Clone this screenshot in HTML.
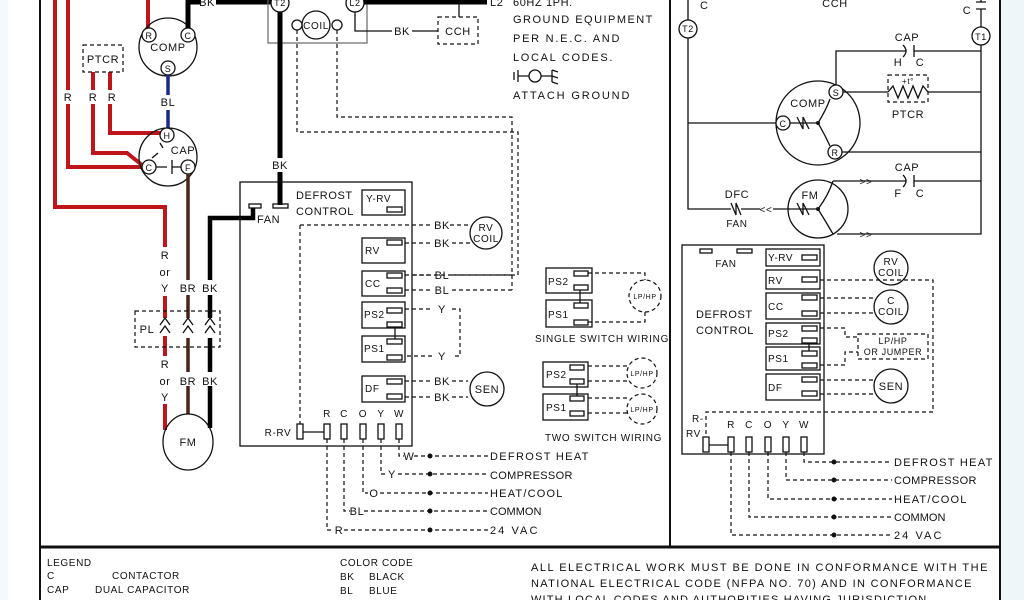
<!DOCTYPE html>
<html><head><meta charset="utf-8"><style>
html,body{margin:0;padding:0;background:#fff;width:1024px;height:600px;overflow:hidden}
svg{display:block}
text{font-family:"Liberation Sans",sans-serif;font-size:11px;fill:#111;letter-spacing:0.6px}
.t{stroke:#111;stroke-width:1.3;fill:none}
.d{stroke:#111;stroke-width:1.2;fill:none;stroke-dasharray:4,3}
.k{stroke:#000;stroke-width:5;fill:none}
.r{stroke:#c0161b;stroke-width:4;fill:none}
.b{stroke:#4a2418;stroke-width:3.5;fill:none}
.c{stroke:#111;stroke-width:1.3;fill:#fff}
.m{text-anchor:middle}
</style></head><body>
<svg width="1024" height="600" viewBox="0 0 1024 600" xmlns="http://www.w3.org/2000/svg">
<rect x="1001" y="0" width="23" height="600" fill="#eef6fa"/>
<rect x="0" y="0" width="8" height="600" fill="#f3f9fc"/>
<!-- frame -->
<line x1="40" y1="0" x2="40" y2="600" stroke="#111" stroke-width="2"/>
<line x1="1000" y1="0" x2="1000" y2="600" stroke="#111" stroke-width="2"/>
<line x1="40" y1="547" x2="1000" y2="547" stroke="#111" stroke-width="3"/>
<line x1="670" y1="0" x2="670" y2="547" stroke="#111" stroke-width="2"/>

<!-- LEFT: red wires -->
<path class="r" d="M55,0 V207 H165 V247"/>
<path class="r" d="M68,0 V90 M68,104 V167 H142"/>
<path class="r" d="M93,72 V90 M93,104 V153 H127 L142,165"/>
<path class="r" d="M110,72 V90 M110,104 V133 H161"/>
<path class="r" d="M148,0 V28"/>
<text x="68" y="101" class="m">R</text><text x="93" y="101" class="m">R</text><text x="112" y="101" class="m">R</text>
<rect x="83" y="45" width="40" height="27" class="d"/>
<text x="103" y="63" class="m">PTCR</text>
<!-- COMP -->
<circle cx="168" cy="47" r="29" class="t"/>
<text x="168" y="51" class="m">COMP</text>
<circle cx="149" cy="35" r="7" class="c"/><text x="149" y="39" class="m" style="font-size:9px">R</text>
<circle cx="188" cy="35" r="7" class="c"/><text x="188" y="39" class="m" style="font-size:9px">C</text>
<circle cx="168" cy="68" r="7" class="c"/><text x="168" y="72" class="m" style="font-size:9px">S</text>
<path class="k" d="M188,28 V2 H200 M216,2 H272"/>
<text x="207" y="6" class="m">BK</text>
<path d="M168,75 V95 M168,110 V128" stroke="#1a2a8a" stroke-width="3.5" fill="none"/>
<text x="168" y="106" class="m">BL</text>
<!-- CAP -->
<circle cx="168" cy="157" r="29" class="t"/>
<text x="183" y="154" class="m">CAP</text>
<circle cx="167" cy="135" r="7" class="c"/><text x="167" y="139" class="m" style="font-size:9px">H</text>
<circle cx="149" cy="167" r="7" class="c"/><text x="149" y="171" class="m" style="font-size:9px">C</text>
<circle cx="188" cy="167" r="7" class="c"/><text x="188" y="171" class="m" style="font-size:9px">F</text>
<path class="t" d="M156,167 H167 M172,160 V174 M172,167 H181 M160,143 L163,148 M152,158 L158,153"/>
<path class="b" d="M188,174 V280 M188,295 V318 M188,338 V372 M188,386 V414"/>
<text x="188" y="292" class="m">BR</text>
<path class="k" d="M253,208 V218 H210 V280 M210,295 V318 M210,338 V372 M210,386 V428" style="stroke-width:4.5"/>
<text x="210" y="292" class="m">BK</text>
<text x="165" y="259" class="m">R</text><text x="165" y="276" class="m">or</text><text x="165" y="292" class="m">Y</text>
<path class="r" d="M165,296 V318 M165,336 V356 M165,404 V430"/>
<rect x="135" y="311" width="85" height="36" class="d"/>
<text x="147" y="333" class="m">PL</text>
<path class="t" d="M160,325 L165,318 L170,325 M160,333 L165,326 L170,333 M183,325 L188,318 L193,325 M183,333 L188,326 L193,333 M205,325 L210,318 L215,325 M205,333 L210,326 L215,333"/>
<text x="165" y="368" class="m">R</text><text x="165" y="385" class="m">or</text><text x="165" y="401" class="m">Y</text>
<text x="188" y="385" class="m">BR</text><text x="210" y="385" class="m">BK</text>
<ellipse cx="188" cy="442" rx="25" ry="28" class="t"/>
<text x="188" y="446" class="m">FM</text>

<!-- top middle -->
<rect x="268" y="-2" width="99" height="45" stroke="#666" stroke-width="1.2" fill="none"/>
<path class="k" d="M280,3 V158 M280,172 V205"/>
<text x="280" y="169" class="m">BK</text>
<circle cx="280" cy="3" r="9" class="c"/><text x="280" y="6" class="m" style="font-size:9px">T2</text>
<circle cx="355" cy="3" r="9" class="c"/><text x="355" y="6" class="m" style="font-size:9px">L2</text>
<path class="k" d="M364,2 H487"/>
<text x="490" y="6">L2</text>
<circle cx="316" cy="25" r="14" class="t"/><text x="316" y="29" class="m" style="font-size:10px">COIL</text>
<circle cx="297" cy="25" r="5" class="c"/><circle cx="337" cy="25" r="5" class="c"/>
<path class="d" d="M297,30 V132 H518 V275 H412"/>
<path class="d" d="M337,30 V117 H512 V290"/>
<path class="t" d="M355,12 V31 H392 M412,31 H438 M459,17 V3"/>
<text x="402" y="35" class="m">BK</text>
<rect x="438" y="17" width="40" height="27" class="d"/>
<text x="458" y="35" class="m">CCH</text>
<text x="513" y="6">60HZ 1PH.</text>
<text x="513" y="23" textLength="140">GROUND EQUIPMENT</text>
<text x="513" y="42" textLength="107">PER N.E.C. AND</text>
<text x="513" y="61" textLength="100">LOCAL CODES.</text>
<path class="t" d="M514,72 V80 M518,70 V82 M518,76 H529 M541,76 H552 M552,70 V82 M552,70 L558,72 M552,76 L558,78 M552,82 L558,84"/>
<circle cx="535" cy="76" r="6" class="t"/>
<text x="513" y="99" textLength="117">ATTACH GROUND</text>

<!-- LEFT DEFROST CONTROL -->
<rect x="240" y="182" width="172" height="264" class="t"/>
<text x="296" y="199">DEFROST</text><text x="296" y="215">CONTROL</text>
<rect x="249" y="204" width="12" height="4" class="t"/><rect x="273" y="204" width="15" height="4" class="t"/>
<text x="257" y="223">FAN</text>
<rect x="362" y="190" width="43" height="25" class="t"/><text x="366" y="202" style="font-size:10px">Y-RV</text><rect x="387" y="207" width="15" height="5" class="t"/>
<path class="d" d="M300,225 H430 M300,225 V424"/>
<rect x="362" y="238" width="43" height="25" class="t"/><text x="365" y="254" style="font-size:10px">RV</text><rect x="387" y="240" width="15" height="5" class="t"/>
<rect x="362" y="271" width="43" height="25" class="t"/><text x="365" y="287" style="font-size:10px">CC</text><rect x="387" y="273" width="15" height="5" class="t"/><rect x="387" y="288" width="15" height="5" class="t"/>
<rect x="362" y="302" width="43" height="26" class="t"/><text x="364" y="318" style="font-size:10px">PS2</text><rect x="387" y="308" width="15" height="5" class="t"/><rect x="387" y="322" width="15" height="5" class="t"/>
<rect x="362" y="336" width="43" height="26" class="t"/><text x="364" y="352" style="font-size:10px">PS1</text><rect x="387" y="339" width="15" height="5" class="t"/><rect x="387" y="355" width="15" height="5" class="t"/>
<line x1="395" y1="327" x2="395" y2="339" class="t"/>
<rect x="362" y="376" width="43" height="26" class="t"/><text x="365" y="392" style="font-size:10px">DF</text><rect x="387" y="379" width="15" height="5" class="t"/><rect x="387" y="394" width="15" height="5" class="t"/>
<path class="d" d="M450,225 H470 M405,243 H432 M452,243 H470 M405,275 H432 M452,275 H512 M405,290 H432 M452,290 H512 M405,309 H432 M452,309 H460 V356 H452 M432,356 H405 M405,381 H432 M452,381 H468 M405,397 H432 M452,397 H468"/>
<text x="442" y="229" class="m">BK</text><text x="442" y="247" class="m">BK</text>
<text x="442" y="279" class="m">BL</text><text x="442" y="294" class="m">BL</text>
<text x="442" y="313" class="m">Y</text><text x="442" y="360" class="m">Y</text>
<text x="442" y="385" class="m">BK</text><text x="442" y="401" class="m">BK</text>
<circle cx="486" cy="233" r="16" class="t"/><text x="486" y="231" class="m" style="font-size:10px">RV</text><text x="486" y="242" class="m" style="font-size:10px">COIL</text>
<circle cx="487" cy="389" r="17" class="t"/><text x="487" y="393" class="m">SEN</text>
<text x="327" y="417" class="m" style="font-size:10px">R</text><text x="344" y="417" class="m" style="font-size:10px">C</text><text x="363" y="417" class="m" style="font-size:10px">O</text><text x="381" y="417" class="m" style="font-size:10px">Y</text><text x="399" y="417" class="m" style="font-size:10px">W</text>
<text x="278" y="436" class="m" style="font-size:10px">R-RV</text>
<rect x="297" y="424" width="6" height="15" class="t"/><line x1="303" y1="432" x2="324" y2="432" class="t"/>
<rect x="324" y="424" width="6" height="15" class="t"/><rect x="341" y="424" width="6" height="15" class="t"/><rect x="360" y="424" width="6" height="15" class="t"/><rect x="378" y="424" width="6" height="15" class="t"/><rect x="396" y="424" width="6" height="15" class="t"/>
<path class="d" d="M399,439 V456 H404 M414,456 H488 M381,439 V474 H386 M398,474 H488 M363,439 V493 H368 M380,493 H488 M344,439 V511 H350 M364,511 H488 M327,439 V530 H333 M344,530 H488"/>
<text x="409" y="460" class="m">W</text><text x="392" y="478" class="m">Y</text><text x="374" y="497" class="m">O</text><text x="357" y="515" class="m">BL</text><text x="339" y="534" class="m">R</text>
<g fill="#111"><circle cx="430" cy="456" r="2.5"/><circle cx="430" cy="474" r="2.5"/><circle cx="430" cy="493" r="2.5"/><circle cx="430" cy="511" r="2.5"/><circle cx="430" cy="530" r="2.5"/></g>
<text x="490" y="460" textLength="99">DEFROST HEAT</text><text x="490" y="479" textLength="83">COMPRESSOR</text><text x="490" y="497" textLength="73">HEAT/COOL</text><text x="490" y="515" textLength="52">COMMON</text><text x="490" y="534" textLength="48">24 VAC</text>

<!-- switch wiring -->
<rect x="546" y="268" width="46" height="25" class="t"/><text x="548" y="285" style="font-size:10px">PS2</text><rect x="574" y="271" width="14" height="5" class="t"/><rect x="574" y="285" width="14" height="5" class="t"/>
<rect x="546" y="300" width="46" height="27" class="t"/><text x="548" y="318" style="font-size:10px">PS1</text><rect x="574" y="303" width="14" height="5" class="t"/><rect x="574" y="320" width="14" height="5" class="t"/>
<line x1="580" y1="290" x2="580" y2="303" class="t"/>
<path class="d" d="M588,273 H645 V280 M588,322 H645 V312"/>
<circle cx="645" cy="296" r="16" class="d"/><text x="645" y="299" class="m" style="font-size:7px">LP/HP</text>
<text x="535" y="342" textLength="134" style="font-size:10px">SINGLE SWITCH WIRING</text>
<rect x="543" y="362" width="45" height="25" class="t"/><text x="546" y="378" style="font-size:10px">PS2</text><rect x="570" y="365" width="14" height="5" class="t"/><rect x="570" y="379" width="14" height="5" class="t"/>
<rect x="543" y="394" width="45" height="26" class="t"/><text x="546" y="411" style="font-size:10px">PS1</text><rect x="570" y="396" width="14" height="5" class="t"/><rect x="570" y="411" width="14" height="5" class="t"/>
<line x1="577" y1="384" x2="577" y2="396" class="t"/>
<path class="d" d="M588,366 H627 M588,381 H627 M588,398 H627 M588,413 H627"/>
<circle cx="642" cy="373" r="15" class="d"/><text x="642" y="376" class="m" style="font-size:7px">LP/HP</text>
<circle cx="642" cy="409" r="15" class="d"/><text x="642" y="412" class="m" style="font-size:7px">LP/HP</text>
<text x="545" y="441" textLength="117" style="font-size:10px">TWO SWITCH WIRING</text>

<!-- RIGHT schematic -->
<path class="t" d="M688,0 V209 H731 M741,209 H760 M773,209 H790"/>
<circle cx="688" cy="29" r="9" class="c"/><text x="688" y="32" class="m" style="font-size:9px">T2</text>
<text x="700" y="9">C</text><text x="835" y="7" class="m">CCH</text>
<path class="t" d="M981,0 V2 M976,2 H986 M976,9 H986 M981,9 V234 H837"/>
<text x="967" y="14" class="m">C</text>
<circle cx="981" cy="36" r="9" class="c"/><text x="981" y="40" class="m" style="font-size:9px">T1</text>
<!-- cap top -->
<path class="t" d="M836,86 V51 H906 M914,51 H981 M903,45 Q909,51 903,57 M914,45 V57"/>
<text x="907" y="41" class="m">CAP</text><text x="898" y="66" class="m">H</text><text x="920" y="66" class="m">C</text>
<ellipse cx="818" cy="123" rx="42" ry="42" class="t"/>
<text x="808" y="107" class="m">COMP</text>
<circle cx="836" cy="92" r="7" class="c"/><text x="836" y="96" class="m" style="font-size:9px">S</text>
<circle cx="783" cy="123" r="7" class="c"/><text x="783" y="127" class="m" style="font-size:9px">C</text>
<circle cx="835" cy="152" r="7" class="c"/><text x="835" y="156" class="m" style="font-size:9px">R</text>
<path class="t" d="M688,123 H776 M790,123 H818 M797,117 L803,129 L803,117 L809,129 M818,123 Q826,110 830,99 M818,123 Q825,135 830,146 M842,152 H981 M843,92 H888 M928,92 H981"/>
<circle cx="818" cy="123" r="2" fill="#111"/>
<rect x="888" y="75" width="40" height="27" class="d"/>
<path class="t" d="M888,92 L893,86 L898,98 L903,86 L908,98 L913,86 L918,98 L923,86 L928,92"/>
<text x="908" y="84" class="m" style="font-size:8px">+t°</text>
<text x="908" y="118" class="m">PTCR</text>
<!-- cap 2 & FM -->
<path class="t" d="M833,181 H906 M914,181 H981 M903,175 Q909,181 903,187 M914,175 V187"/>
<text x="866" y="185" class="m" style="font-size:10px">&gt;&gt;</text><text x="866" y="238" class="m" style="font-size:10px">&gt;&gt;</text>
<text x="907" y="171" class="m">CAP</text><text x="898" y="197" class="m">F</text><text x="920" y="197" class="m">C</text>
<ellipse cx="818" cy="209" rx="30" ry="29" class="t"/>
<text x="810" y="199" class="m">FM</text>
<path class="t" d="M788,209 H818 M797,203 L803,215 L803,203 L809,215 M818,209 Q828,196 833,181 M818,209 Q826,222 833,234"/>
<circle cx="818" cy="209" r="2" fill="#111"/>
<path class="t" d="M731,203 L736,215 L736,203 L741,215"/>
<text x="737" y="198" class="m">DFC</text><text x="737" y="227" class="m" style="font-size:10px">FAN</text>
<text x="766" y="213" class="m" style="font-size:10px">&lt;&lt;</text>
<!-- right defrost control -->
<rect x="682" y="245" width="142" height="209" class="t"/>
<rect x="700" y="249" width="12" height="4" class="t"/><rect x="737" y="249" width="15" height="4" class="t"/>
<text x="726" y="267" class="m" style="font-size:10px">FAN</text>
<text x="696" y="318">DEFROST</text><text x="696" y="334">CONTROL</text>
<rect x="766" y="249" width="54" height="17" class="t"/><text x="768" y="261" style="font-size:10px">Y-RV</text><rect x="802" y="255" width="15" height="5" class="t"/>
<rect x="766" y="270" width="54" height="19" class="t"/><text x="768" y="284" style="font-size:10px">RV</text><rect x="802" y="277" width="15" height="5" class="t"/>
<rect x="766" y="293" width="54" height="26" class="t"/><text x="768" y="310" style="font-size:10px">CC</text><rect x="802" y="295" width="15" height="5" class="t"/><rect x="802" y="311" width="15" height="5" class="t"/>
<rect x="766" y="323" width="54" height="21" class="t"/><text x="768" y="337" style="font-size:10px">PS2</text><rect x="802" y="326" width="15" height="5" class="t"/><rect x="802" y="338" width="15" height="5" class="t"/>
<rect x="766" y="347" width="54" height="23" class="t"/><text x="768" y="362" style="font-size:10px">PS1</text><rect x="802" y="351" width="15" height="5" class="t"/><rect x="802" y="363" width="15" height="5" class="t"/>
<line x1="809" y1="343" x2="809" y2="351" class="t"/>
<rect x="766" y="374" width="54" height="26" class="t"/><text x="768" y="391" style="font-size:10px">DF</text><rect x="802" y="377" width="15" height="5" class="t"/><rect x="802" y="391" width="15" height="5" class="t"/>
<path class="d" d="M820,280 H933 V412 H706 V437 M820,298 H874 M820,313 H874 M820,328 H845 V337 H858 M820,365 H845 V352 H858 M820,380 H874 M820,394 H874"/>
<circle cx="891" cy="268" r="17" class="t"/><text x="891" y="265" class="m" style="font-size:10px">RV</text><text x="891" y="276" class="m" style="font-size:10px">COIL</text>
<circle cx="891" cy="307" r="17" class="t"/><text x="891" y="304" class="m" style="font-size:10px">C</text><text x="891" y="315" class="m" style="font-size:10px">COIL</text>
<rect x="858" y="334" width="70" height="25" class="d"/><text x="893" y="344" class="m" style="font-size:9px">LP/HP</text><text x="893" y="355" class="m" style="font-size:9px">OR JUMPER</text>
<circle cx="891" cy="386" r="17" class="t"/><text x="891" y="390" class="m">SEN</text>
<text x="692" y="422" style="font-size:10px">R-</text><text x="686" y="437" style="font-size:10px">RV</text>
<text x="731" y="428" class="m" style="font-size:10px">R</text><text x="749" y="428" class="m" style="font-size:10px">C</text><text x="768" y="428" class="m" style="font-size:10px">O</text><text x="786" y="428" class="m" style="font-size:10px">Y</text><text x="804" y="428" class="m" style="font-size:10px">W</text>
<rect x="703" y="437" width="6" height="15" class="t"/><line x1="709" y1="445" x2="728" y2="445" class="t"/>
<rect x="728" y="437" width="6" height="15" class="t"/><rect x="746" y="437" width="6" height="15" class="t"/><rect x="765" y="437" width="6" height="15" class="t"/><rect x="783" y="437" width="6" height="15" class="t"/><rect x="801" y="437" width="6" height="15" class="t"/>
<path class="d" d="M804,452 V462 H892 M786,452 V480 H892 M768,452 V499 H892 M749,452 V517 H892 M731,452 V535 H892"/>
<g fill="#111"><circle cx="834" cy="462" r="2.5"/><circle cx="834" cy="480" r="2.5"/><circle cx="834" cy="499" r="2.5"/><circle cx="834" cy="517" r="2.5"/><circle cx="834" cy="535" r="2.5"/></g>
<text x="894" y="466" textLength="99">DEFROST HEAT</text><text x="894" y="484" textLength="83">COMPRESSOR</text><text x="894" y="503" textLength="73">HEAT/COOL</text><text x="894" y="521" textLength="52">COMMON</text><text x="894" y="539" textLength="48">24 VAC</text>

<!-- legend -->
<text x="47" y="566" style="font-size:10px">LEGEND</text>
<text x="47" y="579" style="font-size:10px">C</text><text x="112" y="579" style="font-size:10px">CONTACTOR</text>
<text x="47" y="593" style="font-size:10px">CAP</text><text x="95" y="593" style="font-size:10px">DUAL CAPACITOR</text>
<text x="340" y="566" style="font-size:10px">COLOR CODE</text>
<text x="340" y="580" style="font-size:10px">BK</text><text x="369" y="580" style="font-size:10px">BLACK</text>
<text x="340" y="594" style="font-size:10px">BL</text><text x="369" y="594" style="font-size:10px">BLUE</text>
<text x="531" y="571" textLength="457">ALL ELECTRICAL WORK MUST BE DONE IN CONFORMANCE WITH THE</text>
<text x="531" y="587" textLength="441">NATIONAL ELECTRICAL CODE (NFPA NO. 70) AND IN CONFORMANCE</text>
<text x="531" y="603" textLength="400">WITH LOCAL CODES AND AUTHORITIES HAVING JURISDICTION.</text>
</svg>
</body></html>
